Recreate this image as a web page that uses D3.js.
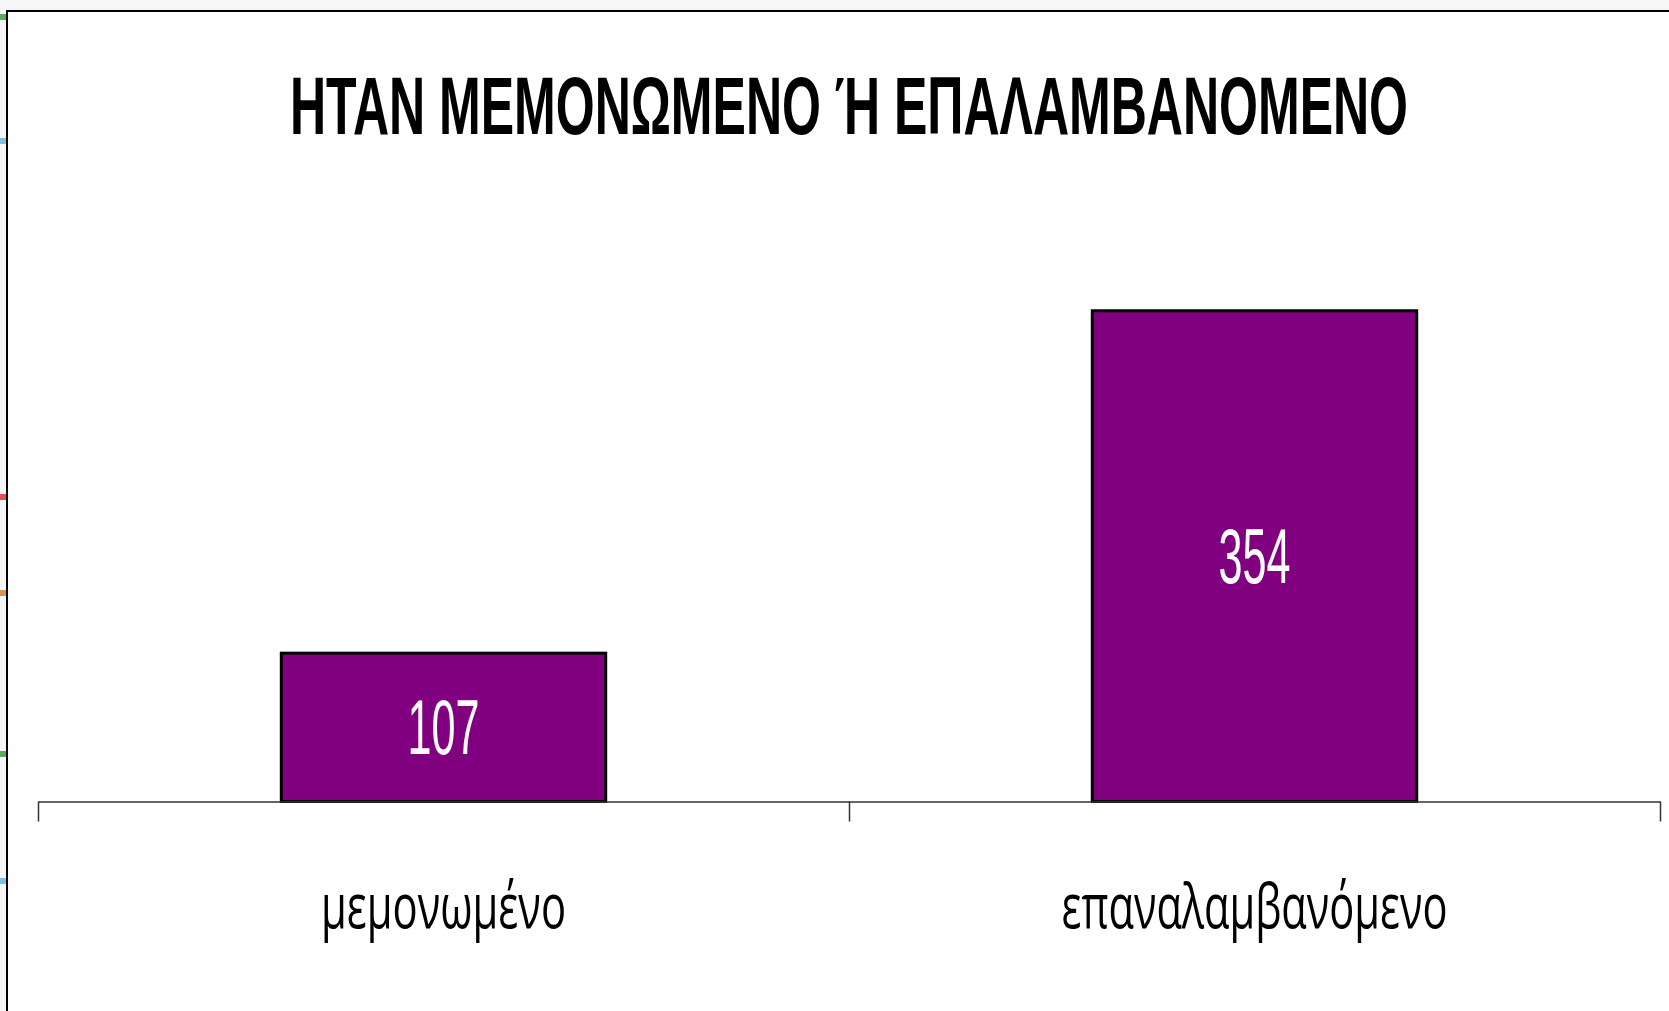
<!DOCTYPE html>
<html>
<head>
<meta charset="utf-8">
<script src="https://cdn.jsdelivr.net/npm/d3@7"></script>
<style>
  html, body { margin: 0; padding: 0; background: #f6f6f6; overflow: hidden; }
  svg { display: block; }
</style>
</head>
<body>
<div id="chart"></div>
<script>
// chart data
var categories = ["μεμονωμένο", "επαναλαμβανόμενο"];
var values = [107, 354];
var chartTitle = "ΗΤΑΝ ΜΕΜΟΝΩΜΕΝΟ Ή ΕΠΑΛΑΜΒΑΝΟΜΕΝΟ";
var yDomain = [0, 400];

var W = 1669, H = 1011;
var plot = { left: 38, right: 1660, bottom: 801.5, top: 247 };

var svg = d3.select("#chart").append("svg")
    .attr("width", W)
    .attr("height", H);

// bits of other charts peeking out on the left edge
var edgeBits = [
    { y: 17, c: "#2e9a3c" }, { y: 141, c: "#5fb3d9" }, { y: 497, c: "#e0262a" },
    { y: 593, c: "#d97a2b" }, { y: 754, c: "#2e9a3c" }, { y: 881, c: "#5fb3d9" }
];
svg.selectAll(".edge-bit")
    .data(edgeBits)
    .enter().append("rect")
    .attr("class", "edge-bit")
    .attr("x", 0)
    .attr("y", function(d) { return d.y - 3; })
    .attr("width", 7)
    .attr("height", 6)
    .style("fill", function(d) { return d.c; })
    .style("opacity", 0.8);

// chart area
svg.append("rect")
    .attr("x", 7)
    .attr("y", 11)
    .attr("width", W)
    .attr("height", H)
    .style("fill", "#ffffff")
    .style("stroke", "#000")
    .style("stroke-width", 2);

var x = d3.scaleBand()
    .domain(categories)
    .range([plot.left, plot.right])
    .paddingInner(0.6)
    .paddingOuter(0.3);

var y = d3.scaleLinear()
    .domain(yDomain)
    .range([plot.bottom, plot.top]);

// category boundaries for the tick marks
var edges = d3.scaleLinear()
    .domain([0, categories.length])
    .range([plot.left, plot.right]);

svg.append("text")
    .attr("x", (plot.left + plot.right) / 2)
    .attr("y", 134)
    .attr("text-anchor", "middle")
    .attr("textLength", 1118)
    .attr("lengthAdjust", "spacingAndGlyphs")
    .style("font-family", "'Liberation Sans', Arial, sans-serif")
    .style("font-weight", "bold")
    .style("font-size", "82px")
    .style("fill", "#000")
    .text(chartTitle);

var bars = svg.selectAll(".bar")
    .data(values)
    .enter().append("g")
    .attr("class", "bar");

bars.append("rect")
    .attr("x", function(d, i) { return x(categories[i]); })
    .attr("y", function(d) { return y(d); })
    .attr("width", x.bandwidth())
    .attr("height", function(d) { return y(0) - y(d); })
    .style("fill", "#800080")
    .style("stroke", "#000")
    .style("stroke-width", 3);

bars.append("text")
    .attr("x", function(d, i) { return x(categories[i]) + x.bandwidth() / 2; })
    .attr("y", function(d) { return (y(d) + y(0)) / 2 + 27; })
    .attr("text-anchor", "middle")
    .attr("textLength", 72)
    .attr("lengthAdjust", "spacingAndGlyphs")
    .style("font-family", "'Liberation Sans', Arial, sans-serif")
    .style("font-size", "77px")
    .style("fill", "#fff")
    .text(function(d) { return d; });

var xaxis = d3.axisBottom(edges)
    .tickValues(d3.range(categories.length + 1))
    .tickSize(20)
    .tickSizeOuter(0)
    .tickFormat("");

var gx = svg.append("g")
    .attr("class", "axis axis--x")
    .attr("transform", "translate(0," + plot.bottom + ")")
    .call(xaxis);
gx.select(".domain").style("stroke", "#333").style("stroke-width", 1.5);
gx.selectAll(".tick line").style("stroke", "#333").style("stroke-width", 1.5);

var labelWidths = [245, 386];
svg.selectAll(".cat-label")
    .data(categories)
    .enter().append("text")
    .attr("class", "cat-label")
    .attr("x", function(d) { return x(d) + x.bandwidth() / 2; })
    .attr("y", 928)
    .attr("text-anchor", "middle")
    .attr("textLength", function(d, i) { return labelWidths[i]; })
    .attr("lengthAdjust", "spacingAndGlyphs")
    .style("font-family", "'Open Sans', 'DejaVu Sans', sans-serif")
    .style("font-size", "63px")
    .style("fill", "#000")
    .text(function(d) { return d; });
</script>
</body>
</html>
